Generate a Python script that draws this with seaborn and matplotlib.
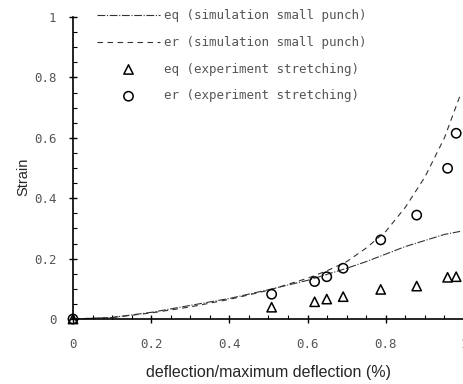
import matplotlib
matplotlib.use("Agg")
import matplotlib.pyplot as plt
import seaborn as sns
import numpy as np
import pandas as pd
from matplotlib.ticker import MultipleLocator

# simulation curves
sim_x = [0, 0.1, 0.2, 0.3, 0.4, 0.5, 0.6, 0.65, 0.7, 0.75, 0.8, 0.85, 0.9, 0.95, 0.99]
er_sim = [0, 0.005, 0.02, 0.04, 0.065, 0.095, 0.135, 0.16, 0.19, 0.235, 0.29, 0.37, 0.47, 0.6, 0.74]
eq_sim = [0, 0.005, 0.022, 0.045, 0.068, 0.097, 0.128, 0.148, 0.168, 0.19, 0.215, 0.24, 0.26, 0.28, 0.29]

# experiment points
exp_x = [0, 0.508, 0.618, 0.649, 0.691, 0.787, 0.879, 0.958, 0.98]
eq_exp = [0, 0.039, 0.057, 0.066, 0.074, 0.098, 0.109, 0.138, 0.14]
er_exp = [0, 0.082, 0.124, 0.14, 0.168, 0.262, 0.344, 0.499, 0.615]

labels = ["eq (simulation small punch)", "er (simulation small punch)",
          "eq (experiment stretching)", "er (experiment stretching)"]
tick_vals = [0, 0.2, 0.4, 0.6, 0.8, 1.0]
tick_labels = ["0", "0.2", "0.4", "0.6", "0.8", "1"]

sns.set_style("white")
fig = plt.figure(figsize=(4.64, 3.84), dpi=100)
ax = fig.add_axes([73/464, 65/384, 1 - 73/464, 302/384])

sns.lineplot(x=sim_x, y=eq_sim, ax=ax, color="#333333", lw=0.8,
             linestyle=(0, (7, 1.5, 1, 1.5)), label=labels[0], clip_on=False)
sns.lineplot(x=sim_x, y=er_sim, ax=ax, color="#333333", lw=0.8,
             linestyle=(0, (5, 4)), label=labels[1], clip_on=False)
sns.scatterplot(x=exp_x, y=eq_exp, ax=ax, marker="^", s=45, facecolor="none",
                edgecolor="black", linewidth=1.1, label=labels[2], clip_on=False, zorder=5)
sns.scatterplot(x=exp_x, y=er_exp, ax=ax, marker="o", s=45, facecolor="none",
                edgecolor="black", linewidth=1.1, label=labels[3], clip_on=False, zorder=5)

ax.set_xlim(0, (464 - 73) / 395)
ax.set_ylim(0, 1)
for s in ["top", "right"]:
    ax.spines[s].set_visible(False)
for s in ["left", "bottom"]:
    ax.spines[s].set_color("black")
    ax.spines[s].set_linewidth(1.2)

ax.xaxis.set_minor_locator(MultipleLocator(0.05))
ax.yaxis.set_minor_locator(MultipleLocator(0.05))
ax.set_xticks(tick_vals)
ax.set_xticklabels(tick_labels)
ax.set_yticks(tick_vals)
ax.set_yticklabels(tick_labels)
ax.tick_params(which="major", direction="inout", length=6, width=1, color="black",
               labelsize=9, labelcolor="#555555")
ax.tick_params(axis="x", which="major", pad=11)
ax.tick_params(axis="y", which="major", pad=9)
ax.tick_params(which="minor", direction="in", length=3, width=0.8, color="black")
ax.xaxis.set_ticks_position("bottom")
ax.yaxis.set_ticks_position("left")
for t in ax.get_xticklabels() + ax.get_yticklabels():
    t.set_family("DejaVu Sans Mono")

ax.set_xlabel("deflection/maximum deflection (%)", fontsize=11.5, family="Liberation Sans", labelpad=10)
ax.set_ylabel("Strain", fontsize=10.5, family="Liberation Sans", labelpad=2)
ax.yaxis.set_label_coords(-0.11, 0.47)

leg = ax.legend(loc="upper left", bbox_to_anchor=(86/464, 1 + 2/384), bbox_transform=fig.transFigure,
                frameon=False, handlelength=5.0, handletextpad=0.3, labelspacing=1.1,
                prop={"family": "DejaVu Sans Mono", "size": 9})
for t in leg.get_texts():
    t.set_color("#555555")

fig.savefig("out.png", dpi=100)
